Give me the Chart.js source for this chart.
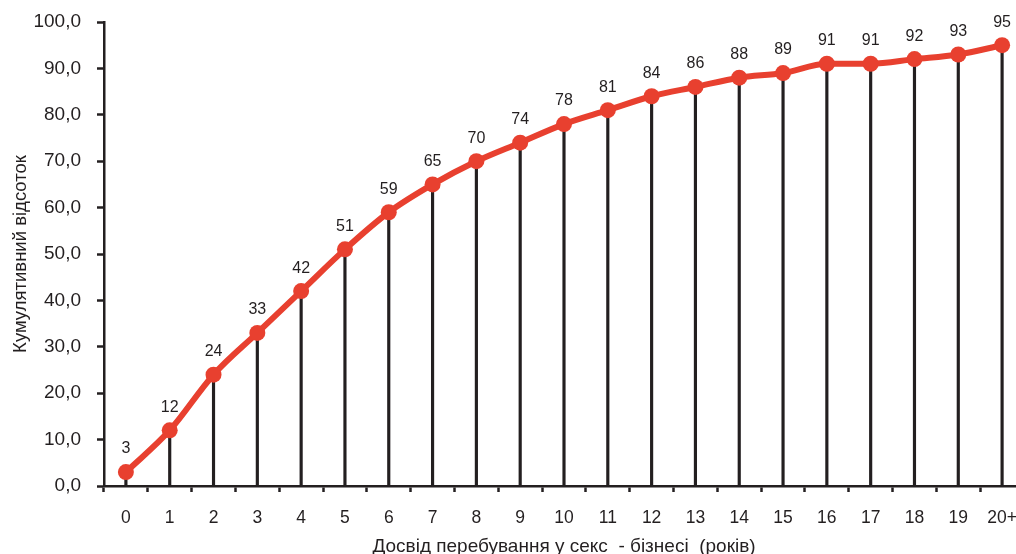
<!DOCTYPE html>
<html>
<head>
<meta charset="utf-8">
<script src="https://cdn.jsdelivr.net/npm/chart.js@4/dist/chart.umd.min.js"></script>
<style>
  html, body { margin: 0; padding: 0; background: #fff; overflow: hidden; }
  #wrap { position: absolute; left: 0; top: 0; width: 1032px; height: 554px; }
</style>
</head>
<body>
<div id="wrap"><canvas id="c"></canvas></div>
<script>
// Years in the business and the cumulative share (%)
const years = ['0','1','2','3','4','5','6','7','8','9','10','11','12','13','14','15','16','17','18','19','20+'];
const cumulativePct = [3, 12, 24, 33, 42, 51, 59, 65, 70, 74, 78, 81, 84, 86, 88, 89, 91, 91, 92, 93, 95];
const yTicks = [0, 10, 20, 30, 40, 50, 60, 70, 80, 90, 100];

const FONT = "'Liberation Sans', Arial, Helvetica, sans-serif";
const INK = '#231f20';
const RED = '#e8402f';

// Value labels above each point of the line
const valueLabels = {
  id: 'valueLabels',
  afterDatasetsDraw(chart) {
    const meta = chart.getDatasetMeta(1);
    const ctx = chart.ctx;
    ctx.save();
    ctx.font = '16px ' + FONT;
    ctx.fillStyle = INK;
    ctx.textAlign = 'center';
    ctx.textBaseline = 'middle';
    meta.data.forEach((pt, i) => {
      ctx.fillText(String(cumulativePct[i]), pt.x, pt.y - 23);
    });
    ctx.restore();
  }
};

new Chart(document.getElementById('c'), {
  type: 'bar',
  data: {
    labels: years,
    datasets: [
      {
        // thin drop lines from each point down to the axis
        type: 'bar',
        data: cumulativePct,
        backgroundColor: INK,
        barThickness: 2.5,
        order: 2
      },
      {
        type: 'line',
        data: cumulativePct,
        borderColor: RED,
        backgroundColor: RED,
        borderWidth: 6,
        pointRadius: 8,
        pointHoverRadius: 8,
        pointBackgroundColor: RED,
        pointBorderWidth: 0,
        cubicInterpolationMode: 'monotone',
        order: 1
      }
    ]
  },
  options: {
    responsive: true,
    maintainAspectRatio: false,
    animation: false,
    layout: { padding: { top: 22, right: 8, left: 0, bottom: 0 } },
    plugins: {
      legend: { display: false },
      tooltip: { enabled: false }
    },
    scales: {
      x: {
        offset: true,
        grid: {
          offset: true,
          drawOnChartArea: false,
          drawTicks: true,
          tickLength: 6,
          tickWidth: 2.5,
          tickColor: INK
        },
        border: { display: true, color: INK, width: 2.5 },
        ticks: {
          color: INK,
          font: { family: FONT, size: 17.5 },
          padding: 16,
          maxRotation: 0,
          autoSkip: false
        },
        title: {
          display: true,
          text: 'Досвід перебування у секс  - бізнесі  (років)',
          color: INK,
          font: { family: FONT, size: 19, lineHeight: 0.8 },
          padding: { top: 0, bottom: 0 }
        },
        afterFit(scale) {
          scale.height = 68;
          scale.paddingLeft = 0;
          scale.paddingRight = 0;
        }
      },
      y: {
        min: 0,
        max: 100,
        afterBuildTicks(scale) { scale.ticks = yTicks.map(v => ({ value: v })); },
        grid: {
          drawOnChartArea: false,
          drawTicks: true,
          tickLength: 7,
          tickWidth: 2.5,
          tickColor: INK
        },
        border: { display: true, color: INK, width: 2.5 },
        ticks: {
          color: INK,
          font: { family: FONT, size: 19 },
          padding: 16,
          callback: v => v.toFixed(1).replace('.', ',')
        },
        title: {
          display: true,
          text: 'Кумулятивний відсоток',
          color: INK,
          font: { family: FONT, size: 18.5 },
          padding: { top: 10, bottom: 0 }
        },
        afterFit(scale) {
          scale.width = 104;
          scale.paddingTop = 0;
          scale.paddingBottom = 0;
        }
      }
    }
  },
  plugins: [valueLabels]
});
</script>
</body>
</html>
